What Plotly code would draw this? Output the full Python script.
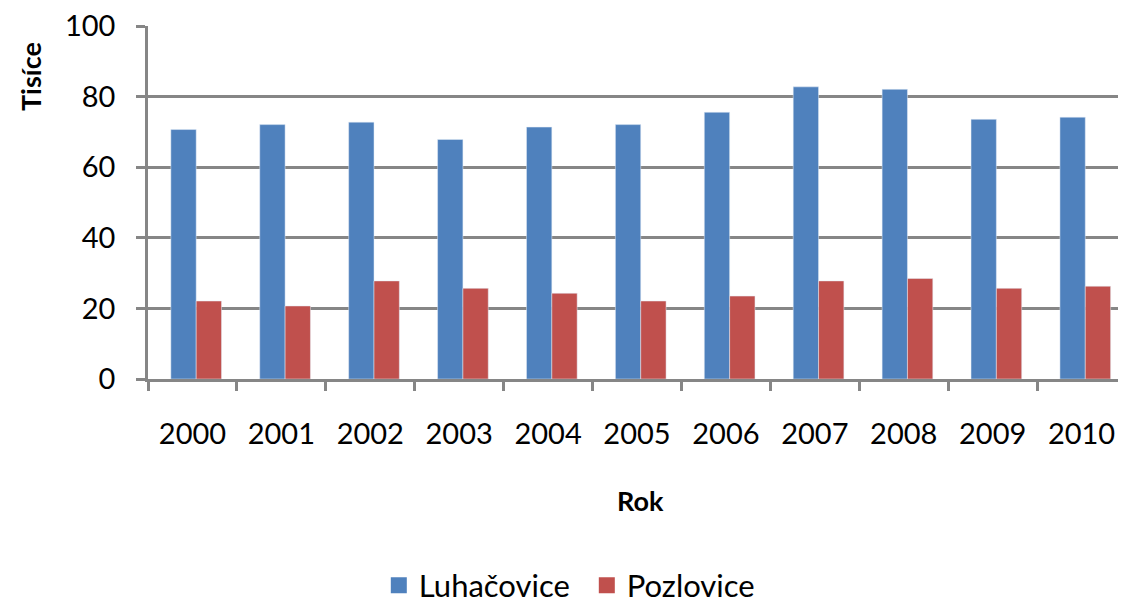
import plotly.graph_objects as go

years = ["2000", "2001", "2002", "2003", "2004", "2005", "2006", "2007", "2008", "2009", "2010"]
luhacovice = [70.7, 72.1, 72.8, 67.9, 71.4, 72.1, 75.6, 82.8, 82.1, 73.6, 74.2]
pozlovice = [22.1, 20.7, 27.8, 25.7, 24.3, 22.1, 23.5, 27.8, 28.5, 25.7, 26.3]
series_names = ["Luhačovice", "Pozlovice"]
colors = ["#4F81BD", "#C0504D"]
bar_offsets = [-0.243, 0.042]
BAR_W = 0.285

FONT = "Lato"
GRID = "#868686"

fig = go.Figure()
for name, vals, col, off in zip(series_names, [luhacovice, pozlovice], colors, bar_offsets):
    fig.add_trace(go.Bar(name=name, x=years, y=vals, marker_color=col, showlegend=False,
                         offset=off, width=BAR_W))
# legend entries with larger square markers
for name, col in zip(series_names, colors):
    fig.add_trace(go.Scatter(name=name, x=[None], y=[None], mode="markers",
                             marker=dict(symbol="square", size=17, color=col),
                             showlegend=True))

fig.update_layout(
    width=1118, height=596,
    margin=dict(l=140, r=0, t=18, b=225, autoexpand=False),
    paper_bgcolor="white", plot_bgcolor="white",
    barmode="overlay",
    font=dict(family=FONT, size=29, color="black"),
    showlegend=True,
    legend=dict(orientation="h", x=0.236, xanchor="left", y=-0.585, yanchor="middle",
                font=dict(size=31), itemsizing="trace", itemwidth=30, tracegroupgap=0,
                entrywidth=163, entrywidthmode="pixels"),
)
fig.update_xaxes(
    type="category", categoryorder="array", categoryarray=years,
    range=[-0.5, 10.5], automargin=False,
    showline=True, linecolor=GRID, linewidth=2.5,
    ticks="outside", tickson="boundaries", ticklen=9, tickwidth=2.5, tickcolor=GRID,
    showgrid=False, ticklabelstandoff=27,
)
fig.update_yaxes(
    range=[0, 100.05], dtick=20, automargin=False, ticklabeloverflow="allow",
    showline=True, linecolor=GRID, linewidth=2.5,
    ticks="outside", ticklen=9, tickwidth=2.5, tickcolor=GRID,
    showgrid=True, gridcolor=GRID, gridwidth=2.5,
    zeroline=False, ticklabelstandoff=15,
)
fig.add_annotation(text="<b>Tisíce</b>", xref="paper", yref="paper",
                   x=(30 - 148) / 978, y=(379 - 77) / 353, textangle=-90,
                   showarrow=False, font=dict(size=27), xanchor="center", yanchor="middle")
fig.add_annotation(text="<b>Rok</b>", xref="paper", yref="paper",
                   x=(640 - 148) / 978, y=(379 - 500) / 353,
                   showarrow=False, font=dict(size=27), xanchor="center", yanchor="middle")

fig.write_html("out.html")
